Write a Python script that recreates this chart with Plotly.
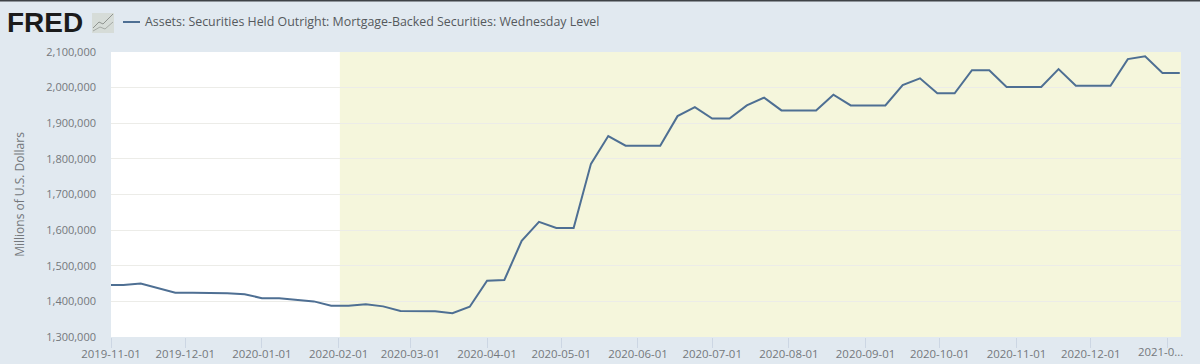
import plotly.graph_objects as go

series_name = "Assets: Securities Held Outright: Mortgage-Backed Securities: Wednesday Level"
y_title = "Millions of U.S. Dollars"

dates = [
    "2019-10-30", "2019-11-06", "2019-11-13", "2019-11-20", "2019-11-27", "2019-12-04", "2019-12-11",
    "2019-12-18", "2019-12-25", "2020-01-01", "2020-01-08", "2020-01-15", "2020-01-22", "2020-01-29",
    "2020-02-05", "2020-02-12", "2020-02-19", "2020-02-26", "2020-03-04", "2020-03-11", "2020-03-18",
    "2020-03-25", "2020-04-01", "2020-04-08", "2020-04-15", "2020-04-22", "2020-04-29", "2020-05-06",
    "2020-05-13", "2020-05-20", "2020-05-27", "2020-06-03", "2020-06-10", "2020-06-17", "2020-06-24",
    "2020-07-01", "2020-07-08", "2020-07-15", "2020-07-22", "2020-07-29", "2020-08-05", "2020-08-12",
    "2020-08-19", "2020-08-26", "2020-09-02", "2020-09-09", "2020-09-16", "2020-09-23", "2020-09-30",
    "2020-10-07", "2020-10-14", "2020-10-21", "2020-10-28", "2020-11-04", "2020-11-11", "2020-11-18",
    "2020-11-25", "2020-12-02", "2020-12-09", "2020-12-16", "2020-12-23", "2020-12-30", "2021-01-06",
]
values = [
    1446000, 1446000, 1450000, 1436000, 1424000, 1424000, 1424000,
    1423000, 1420000, 1409000, 1409000, 1405000, 1400000, 1388000,
    1388000, 1392000, 1386000, 1373000, 1372000, 1372000, 1367000,
    1385000, 1458000, 1460000, 1570000, 1623000, 1606000, 1606000,
    1786000, 1864000, 1837000, 1837000, 1837000, 1920000, 1945000,
    1913000, 1913000, 1950000, 1972000, 1936000, 1936000, 1936000,
    1980000, 1950000, 1950000, 1950000, 2007000, 2026000, 1984000,
    1984000, 2049000, 2049000, 2002000, 2002000, 2002000, 2052000,
    2005000, 2005000, 2005000, 2080000, 2088000, 2041000, 2041000,
]
tick_dates = [
    "2019-11-01", "2019-12-01", "2020-01-01", "2020-02-01", "2020-03-01", "2020-04-01", "2020-05-01",
    "2020-06-01", "2020-07-01", "2020-08-01", "2020-09-01", "2020-10-01", "2020-11-01", "2020-12-01",
    "2021-01-01",
]
tick_labels = tick_dates[:-1] + [""]
last_label = "2021-0..."
y_ticks = [1300000, 1400000, 1500000, 1600000, 1700000, 1800000, 1900000, 2000000, 2100000]
band_start = "2020-02-01 12:00"
x_range = ["2019-11-01", "2021-01-06 12:00"]
y_range = [1300000, 2100000]

BG = "#e1e9f0"
TEXT = "#74787c"
FONT = "Open Sans"
LINE = "#4e6f93"

fig = go.Figure()
fig.add_trace(go.Scatter(
    x=dates, y=values, mode="lines", name=series_name,
    line=dict(color=LINE, width=2), showlegend=False,
))
fig.add_vrect(x0=band_start, x1=x_range[1], fillcolor="#f5f6dc", line_width=0, layer="below")

fig.update_layout(
    width=1200, height=364,
    margin=dict(l=111, r=19, t=52, b=27, autoexpand=False),
    paper_bgcolor=BG, plot_bgcolor="#ffffff",
    font=dict(family=FONT, size=12, color=TEXT),
    xaxis=dict(
        range=x_range, type="date", tickmode="array", tickvals=tick_dates, ticktext=tick_labels,
        ticks="outside", ticklen=10, tickcolor="#ccd6e3", tickwidth=1, showgrid=False, zeroline=False,
        showline=False, automargin=False, ticklabelstandoff=-4, tickfont=dict(size=11.4, color=TEXT),
    ),
    yaxis=dict(
        range=y_range, tickmode="array", tickvals=y_ticks, tickformat=",d", showgrid=True,
        gridcolor="#ececE8", gridwidth=1, zeroline=False, ticks="", ticklabelstandoff=14,
        automargin=False,
        title=dict(text=y_title, standoff=19, font=dict(size=12, color=TEXT)),
        tickfont=dict(size=11, color=TEXT),
    ),
    showlegend=False,
)

P = dict(xref="paper", yref="paper")
W, H = 1070.0, 285.0


def px(x):
    return (x - 111) / W


def py(y):
    return (337 - y) / H


fig.add_shape(type="rect", xref="paper", yref="paper", x0=px(-5), x1=px(1205), y0=py(1.5), y1=py(-3),
              fillcolor="#3f4347", line_width=0)
# legend sample and label
fig.add_shape(type="line", xref="paper", yref="paper", x0=px(123), x1=px(140), y0=py(22), y1=py(22),
              line=dict(color=LINE, width=2))
fig.add_annotation(x=px(143), y=py(22), text=series_name, showarrow=False, xanchor="left", yanchor="middle",
                   font=dict(size=12.4, color="#55595d"), **P)
# logo
fig.add_annotation(x=px(5), y=py(23), text="<b>FRED</b>", showarrow=False, xanchor="left", yanchor="middle",
                   font=dict(family="Liberation Sans", size=28, color="#1b1b1b"), **P)
fig.add_shape(type="rect", xref="paper", yref="paper", x0=px(92), x1=px(114), y0=py(13), y1=py(33),
              fillcolor="#d6dcd8", line_width=0)
fig.add_shape(type="path", xref="paper", yref="paper",
              path=f"M {px(93)} {py(28)} L {px(99)} {py(22)} L {px(103)} {py(24)} L {px(113)} {py(14)}",
              line=dict(color="#8f9490", width=1))
fig.add_shape(type="path", xref="paper", yref="paper",
              path=f"M {px(93)} {py(31)} L {px(100)} {py(27)} L {px(105)} {py(29)} L {px(113)} {py(22)}",
              line=dict(color="#a5aaa6", width=1))
# truncated last x label
fig.add_annotation(x=px(1136), y=py(351.5), text=last_label, showarrow=False, xanchor="left", yanchor="middle",
                   font=dict(size=11.4, color=TEXT), **P)

fig.write_html("out.html", config={"displayModeBar": False},
               post_script="document.body.style.margin='0';document.body.style.background='#e1e9f0';")
